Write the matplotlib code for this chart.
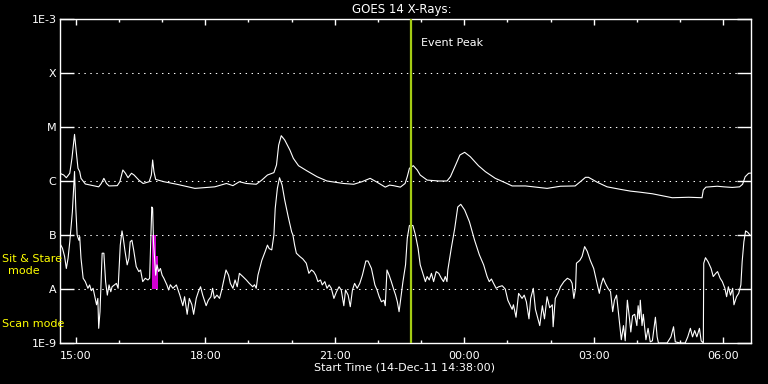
#!/usr/bin/env python3
"""
plot.py

GOES 14 X-ray flux plot (14-Dec-11 14:38 start), IDL-style black background.
Writes out.png (768x384).
"""

import matplotlib
matplotlib.use('Agg')
import matplotlib.pyplot as plt
from matplotlib.ticker import FixedLocator, MultipleLocator

OUTPUT = 'out.png'

# time axis: decimal hours from midnight 14-Dec (values past 24 are 15-Dec)
T_START = 14 + 38 / 60.
T_END = 30 + 38 / 60.
EVENT_T = 22 + 46 / 60.

# long channel (1-8 A), W/m^2
long_t = [14.63, 14.72, 14.78, 14.86, 14.91, 14.97, 15.01, 15.05, 15.09, 15.12,
          15.22, 15.34, 15.53, 15.59, 15.65, 15.71, 15.77, 15.96, 16.02, 16.09,
          16.15, 16.21, 16.29, 16.35, 16.46, 16.56, 16.70, 16.75, 16.78, 16.81,
          16.85, 17.04, 17.34, 17.76, 18.22, 18.49, 18.64, 18.79, 18.95, 19.18,
          19.31, 19.44, 19.59, 19.65, 19.70, 19.76, 19.84, 19.96, 20.04, 20.16,
          20.35, 20.59, 20.82, 21.20, 21.44, 21.63, 21.82, 21.98, 22.17, 22.27,
          22.36, 22.52, 22.63, 22.68, 22.73, 22.82, 22.91, 22.98, 23.14, 23.41,
          23.60, 23.68, 23.80, 23.90, 24.01, 24.14, 24.33, 24.49, 24.72, 24.95,
          25.11, 25.42, 25.92, 26.23, 26.57, 26.69, 26.81, 26.88, 27.08, 27.31,
          27.62, 27.85, 28.08, 28.36, 28.82, 29.20, 29.51, 29.54, 29.60, 29.86,
          30.01, 30.21, 30.38, 30.45, 30.51, 30.59, 30.63]
long_f = [1.39e-6, 1.29e-6, 1.15e-6, 1.39e-6, 2.63e-6, 7.3e-6, 3.5e-6, 1.72e-6, 1.49e-6, 1.12e-6,
          0.88e-6, 0.84e-6, 0.78e-6, 0.90e-6, 1.12e-6, 0.90e-6, 0.81e-6, 0.82e-6, 0.97e-6, 1.6e-6,
          1.39e-6, 1.15e-6, 1.39e-6, 1.29e-6, 1.04e-6, 0.90e-6, 0.97e-6, 1.29e-6, 2.45e-6, 1.49e-6,
          1.07e-6, 0.97e-6, 0.87e-6, 0.73e-6, 0.78e-6, 0.90e-6, 0.82e-6, 0.97e-6, 0.90e-6, 0.87e-6,
          1.04e-6, 1.29e-6, 1.43e-6, 1.98e-6, 4.6e-6, 6.9e-6, 5.75e-6, 3.75e-6, 2.63e-6, 1.92e-6,
          1.55e-6, 1.2e-6, 1.0e-6, 0.90e-6, 0.87e-6, 0.97e-6, 1.12e-6, 0.95e-6, 0.77e-6, 0.84e-6,
          0.82e-6, 0.77e-6, 0.90e-6, 1.2e-6, 1.72e-6, 1.92e-6, 1.6e-6, 1.29e-6, 1.04e-6, 1.0e-6,
          1.0e-6, 1.2e-6, 1.98e-6, 3.03e-6, 3.4e-6, 2.82e-6, 1.92e-6, 1.49e-6, 1.12e-6, 0.93e-6,
          0.81e-6, 0.81e-6, 0.73e-6, 0.80e-6, 0.81e-6, 0.97e-6, 1.17e-6, 1.17e-6, 0.95e-6, 0.78e-6,
          0.70e-6, 0.65e-6, 0.62e-6, 0.58e-6, 0.49e-6, 0.50e-6, 0.49e-6, 0.68e-6, 0.77e-6, 0.80e-6,
          0.78e-6, 0.76e-6, 0.78e-6, 0.87e-6, 1.2e-6, 1.39e-6, 1.4e-6]

# short channel (0.5-4 A), W/m^2
short_t = [14.63, 14.69, 14.74, 14.78, 14.82, 14.86, 14.92, 14.97, 15.00, 15.03,
           15.07, 15.09, 15.12, 15.17, 15.22, 15.28, 15.32, 15.36, 15.40, 15.44,
           15.48, 15.51, 15.53, 15.56, 15.59, 15.61, 15.65, 15.69, 15.73, 15.77,
           15.81, 15.84, 15.90, 15.94, 15.98, 16.00, 16.03, 16.07, 16.10, 16.14,
           16.19, 16.23, 16.26, 16.30, 16.34, 16.40, 16.46, 16.50, 16.55, 16.61,
           16.67, 16.71, 16.74, 16.76, 16.78, 16.80, 16.83, 16.85, 16.88, 16.92,
           16.96, 17.00, 17.04, 17.11, 17.15, 17.19, 17.25, 17.33, 17.41, 17.48,
           17.52, 17.58, 17.63, 17.69, 17.73, 17.79, 17.84, 17.89, 17.94, 18.02,
           18.07, 18.13, 18.17, 18.21, 18.27, 18.33, 18.38, 18.44, 18.48, 18.54,
           18.58, 18.64, 18.69, 18.74, 18.79, 18.87, 18.95, 19.02, 19.10, 19.14,
           19.18, 19.22, 19.31, 19.39, 19.44, 19.48, 19.54, 19.59, 19.62, 19.67,
           19.72, 19.78, 19.84, 19.92, 20.00, 20.03, 20.07, 20.11, 20.19, 20.26,
           20.34, 20.40, 20.46, 20.51, 20.56, 20.61, 20.67, 20.71, 20.77, 20.82,
           20.87, 20.92, 20.98, 21.04, 21.10, 21.15, 21.21, 21.25, 21.31, 21.36,
           21.41, 21.46, 21.52, 21.58, 21.64, 21.72, 21.77, 21.85, 21.93, 21.98,
           22.03, 22.08, 22.14, 22.17, 22.21, 22.26, 22.31, 22.37, 22.41, 22.45,
           22.49, 22.53, 22.58, 22.64, 22.68, 22.73, 22.81, 22.87, 22.93, 22.98,
           23.04, 23.10, 23.14, 23.19, 23.24, 23.29, 23.35, 23.41, 23.47, 23.52,
           23.56, 23.60, 23.62, 23.70, 23.78, 23.85, 23.92, 24.01, 24.12, 24.24,
           24.35, 24.45, 24.53, 24.58, 24.63, 24.68, 24.74, 24.80, 24.88, 24.95,
           25.01, 25.07, 25.11, 25.14, 25.20, 25.26, 25.34, 25.39, 25.44, 25.50,
           25.54, 25.60, 25.65, 25.71, 25.75, 25.81, 25.86, 25.92, 25.98, 26.04,
           26.06, 26.11, 26.17, 26.23, 26.31, 26.39, 26.46, 26.50, 26.54, 26.58,
           26.60, 26.68, 26.73, 26.79, 26.85, 26.92, 27.00, 27.06, 27.13, 27.17,
           27.22, 27.27, 27.33, 27.39, 27.44, 27.48, 27.53, 27.58, 27.64, 27.69,
           27.73, 27.78, 27.83, 27.86, 27.90, 27.95, 28.00, 28.03, 28.06, 28.08,
           28.12, 28.15, 28.21, 28.26, 28.31, 28.36, 28.43, 28.47, 28.50, 28.58,
           28.70, 28.79, 28.85, 28.89, 29.00, 29.12, 29.18, 29.24, 29.29, 29.34,
           29.39, 29.45, 29.49, 29.54, 29.55, 29.59, 29.65, 29.72, 29.77, 29.83,
           29.87, 29.93, 29.98, 30.04, 30.08, 30.12, 30.17, 30.22, 30.25, 30.31,
           30.36, 30.41, 30.44, 30.48, 30.52, 30.57, 30.62]
short_f = [7.0e-8, 5.7e-8, 4.0e-8, 2.4e-8, 3.7e-8, 7.5e-8, 2.7e-7, 1.5e-6, 3.1e-7, 1.0e-7,
           8.0e-8, 9.3e-8, 3.7e-8, 1.58e-8, 1.37e-8, 1.03e-8, 1.19e-8, 9.3e-9, 1.03e-8, 7.2e-9,
           5.1e-9, 6.7e-9, 1.87e-9, 3.8e-9, 1.8e-8, 4.6e-8, 4.6e-8, 1.37e-8, 7.7e-9, 1.19e-8,
           8.9e-9, 1.1e-8, 1.2e-8, 1.27e-8, 1.03e-8, 2.1e-8, 6.5e-8, 1.19e-7, 8.7e-8, 5.0e-8,
           2.8e-8, 3.7e-8, 7.5e-8, 8.0e-8, 5.3e-8, 2.6e-8, 2.1e-8, 2.25e-8, 1.37e-8, 1.58e-8,
           1.47e-8, 1.58e-8, 1.0e-7, 3.3e-7, 3.1e-7, 7.5e-8, 3.2e-8, 1.8e-8, 2.8e-8, 2.1e-8,
           2.4e-8, 1.8e-8, 1.58e-8, 1.19e-8, 9.6e-9, 1.2e-8, 1.03e-8, 1.19e-8, 7.7e-9, 4.9e-9,
           7.2e-9, 3.4e-9, 6.7e-9, 5.1e-9, 3.4e-9, 6.7e-9, 8.9e-9, 1.1e-8, 7.7e-9, 4.9e-9,
           6.2e-9, 7.2e-9, 1.03e-8, 6.7e-9, 7.7e-9, 6.7e-9, 9.6e-9, 1.58e-8, 2.25e-8, 1.8e-8,
           1.27e-8, 1.03e-8, 1.47e-8, 1.1e-8, 1.95e-8, 1.7e-8, 1.47e-8, 1.27e-8, 1.1e-8, 1.2e-8,
           1.03e-8, 1.8e-8, 3.4e-8, 5.0e-8, 6.5e-8, 5.6e-8, 5.3e-8, 1.0e-7, 3.1e-7, 7.3e-7,
           1.15e-6, 8.4e-7, 4.45e-7, 2.2e-7, 1.15e-7, 1.0e-7, 6.5e-8, 4.6e-8, 4.0e-8, 3.6e-8,
           3.0e-8, 1.95e-8, 2.25e-8, 2.1e-8, 1.8e-8, 1.37e-8, 1.47e-8, 1.19e-8, 1.37e-8, 1.03e-8,
           1.19e-8, 1.03e-8, 6.7e-9, 8.9e-9, 1.1e-8, 9.6e-9, 4.9e-9, 9.6e-9, 7.7e-9, 4.7e-9,
           9.6e-9, 1.27e-8, 1.03e-8, 1.27e-8, 1.8e-8, 3.3e-8, 3.3e-8, 2.4e-8, 1.19e-8, 9.6e-9,
           7.2e-9, 5.8e-9, 6.2e-9, 4.9e-9, 2.25e-8, 1.8e-8, 1.37e-8, 9.6e-9, 7.7e-9, 5.8e-9,
           3.8e-9, 6.7e-9, 1.37e-8, 2.8e-8, 8.7e-8, 1.5e-7, 1.5e-7, 1.0e-7, 5.7e-8, 2.8e-8,
           1.95e-8, 1.37e-8, 1.7e-8, 1.47e-8, 1.95e-8, 1.37e-8, 2.1e-8, 1.95e-8, 1.58e-8, 1.37e-8,
           1.7e-8, 1.37e-8, 2.25e-8, 5.7e-8, 1.33e-7, 3.3e-7, 3.7e-7, 2.9e-7, 1.76e-7, 8.0e-8,
           4.3e-8, 2.8e-8, 1.7e-8, 1.37e-8, 1.53e-8, 1.27e-8, 1.03e-8, 1.1e-8, 1.15e-8, 1.0e-8,
           6.2e-9, 4.9e-9, 4.2e-9, 5.1e-9, 3.0e-9, 8.3e-9, 6.7e-9, 7.7e-9, 5.8e-9, 2.8e-9,
           6.7e-9, 1.03e-8, 4.2e-9, 2.8e-9, 2.1e-9, 4.9e-9, 2.8e-9, 7.2e-9, 4.5e-9, 5.1e-9,
           2.0e-9, 6.7e-9, 8.3e-9, 1.1e-8, 1.37e-8, 1.58e-8, 1.47e-8, 1.27e-8, 6.7e-9, 1.03e-8,
           3.0e-8, 3.4e-8, 4.0e-8, 6.1e-8, 5.0e-8, 3.4e-8, 2.4e-8, 1.47e-8, 8.3e-9, 1.19e-8,
           1.6e-8, 1.27e-8, 1.03e-8, 8.9e-9, 3.8e-9, 6.2e-9, 7.7e-9, 3.2e-9, 1.15e-9, 2.1e-9,
           1.1e-9, 6.2e-9, 2.8e-9, 1.6e-9, 3.2e-9, 3.4e-9, 2.1e-9, 4.9e-9, 2.8e-9, 6.2e-9,
           2.1e-9, 3.4e-9, 1.15e-9, 1.87e-9, 1.05e-9, 1.1e-9, 3.0e-9, 1.3e-9, 1.0e-9, 1.0e-9,
           1.0e-9, 1.3e-9, 2.0e-9, 1.05e-9, 1.0e-9, 1.0e-9, 1.3e-9, 1.87e-9, 1.3e-9, 1.7e-9,
           1.3e-9, 1.87e-9, 1.1e-9, 1.0e-9, 3.0e-8, 3.8e-8, 3.2e-8, 2.4e-8, 1.7e-8, 1.95e-8,
           2.1e-8, 1.58e-8, 1.37e-8, 1.03e-8, 7.2e-9, 1.1e-8, 7.7e-9, 1.03e-8, 5.1e-9, 7.2e-9,
           8.3e-9, 1.19e-8, 3.2e-8, 7.5e-8, 1.19e-7, 1.12e-7, 1.0e-7]

# sit & stare mode interval (magenta block)
mode_t = [16.77, 16.86, 16.91]
mode_top = [1.0e-7, 4.0e-8, 4.0e-8]

# axis labels
y_levels = [1e-9, 1e-8, 1e-7, 1e-6, 1e-5, 1e-4, 1e-3]
y_labels = ['1E-9', 'A', 'B', 'C', 'M', 'X', '1E-3']
x_major = [15, 18, 21, 24, 27, 30]
x_labels = ['15:00', '18:00', '21:00', '00:00', '03:00', '06:00']

plt.rcParams['font.family'] = ['DejaVu Sans']
plt.rcParams['lines.scale_dashes'] = False

fig = plt.figure(figsize=(7.68, 3.84), dpi=100, facecolor='black')
ax = fig.add_axes([60 / 768., 41 / 384., 690.5 / 768., 324 / 384.], facecolor='black')

ax.set_yscale('log')
ax.set_xlim(T_START, T_END)
ax.set_ylim(1e-9, 1e-3)

# dotted flare-class grid
for lev in y_levels[1:-1]:
    ax.axhline(lev, color='white', lw=0.75, linestyle=(0, (1, 3.3)), zorder=1)

ax.fill_between(mode_t, 1e-8, mode_top, step='post', color='#d000d0', lw=0, zorder=2)
ax.plot(long_t, long_f, color='white', lw=0.8, zorder=3)
ax.plot(short_t, short_f, color='white', lw=0.8, zorder=3)

# event peak marker
ax.axvline(EVENT_T, color='#a4cc14', lw=1.6, zorder=4)
ax.annotate('Event Peak', xy=(EVENT_T, 0.926), xycoords=('data', 'axes fraction'),
            xytext=(7.5, 0), textcoords='offset points', color='white',
            fontsize=8, va='center', ha='left')

for s in ax.spines.values():
    s.set_color('white')
    s.set_linewidth(1.0)

ax.yaxis.set_major_locator(FixedLocator(y_levels))
ax.set_yticklabels(y_labels)
ax.yaxis.set_minor_locator(FixedLocator([]))
ax.tick_params(axis='y', which='major', direction='in', length=10, width=1.0,
               colors='white', labelsize=8, left=True, right=True, pad=2.5)

ax.xaxis.set_major_locator(FixedLocator(x_major))
ax.set_xticklabels(x_labels)
ax.xaxis.set_minor_locator(MultipleLocator(1))
ax.tick_params(axis='x', which='major', direction='in', length=4.5, width=1.0,
               colors='white', labelsize=8, top=True, bottom=True, pad=6)
ax.tick_params(axis='x', which='minor', direction='in', length=2.5, width=1.0,
               colors='white', top=True, bottom=True)

fig.text(402 / 768., 1 - 10 / 384., 'GOES 14 X-Rays:', color='white', fontsize=8.5,
         ha='center', va='center')
fig.text(405 / 768., 1 - 368 / 384., 'Start Time (14-Dec-11 14:38:00)', color='white',
         fontsize=8, ha='center', va='center')

# mode legend on the left
fig.text(2 / 768., 1 - 259 / 384., 'Sit & Stare', color='yellow', fontsize=8,
         ha='left', va='center')
fig.text(24 / 768., 1 - 271 / 384., 'mode', color='yellow', fontsize=8,
         ha='center', va='center')
fig.text(2 / 768., 1 - 324 / 384., 'Scan mode', color='yellow', fontsize=8,
         ha='left', va='center')

fig.savefig(OUTPUT, dpi=100, facecolor='black')
plt.close(fig)
